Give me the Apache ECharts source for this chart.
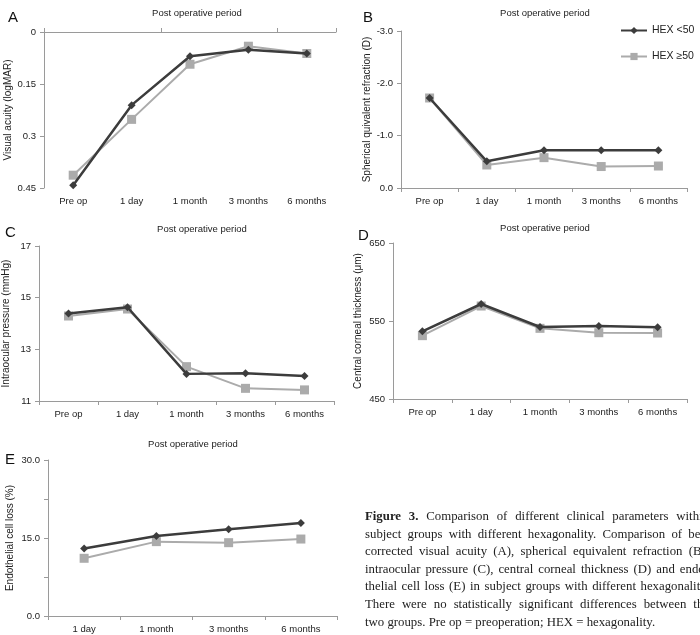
<!DOCTYPE html>
<html>
<head>
<meta charset="utf-8">
<script src="https://cdn.jsdelivr.net/npm/echarts@6/dist/echarts.min.js"></script>
<style>
  html, body { margin: 0; padding: 0; background: #fff; overflow: hidden; }
  #chart { width: 700px; height: 635px; }
  #caption {
    position: absolute; left: 365px; top: 508px; width: 344px;
    font-family: "Liberation Serif", "DejaVu Serif", serif; font-size: 12.8px;
    line-height: 17.6px; color: #222; white-space: nowrap;
  }
  #caption div { text-align: justify; text-align-last: justify; }
  #caption div.last { text-align-last: left; }
</style>
</head>
<body>
<div id="chart"></div>
<div id="caption">
  <div><b>Figure 3.</b> Comparison of different clinical parameters within</div>
  <div>subject groups with different hexagonality. Comparison of best</div>
  <div>corrected visual acuity (A), spherical equivalent refraction (B),</div>
  <div>intraocular pressure (C), central corneal thickness (D) and endo-</div>
  <div>thelial cell loss (E) in subject groups with different hexagonality.</div>
  <div>There were no statistically significant differences between the</div>
  <div class="last">two groups. Pre op = preoperation; HEX = hexagonality.</div>
</div>
<script>
// categories
var periods = ['Pre op', '1 day', '1 month', '3 months', '6 months'];
var periodsE = ['1 day', '1 month', '3 months', '6 months'];

// A - visual acuity (logMAR)
var acuityLow = [0.442, 0.211, 0.070, 0.051, 0.062];
var acuityHigh = [0.413, 0.252, 0.093, 0.041, 0.062];
// B - spherical equivalent refraction (D)
var sphereLow = [-1.72, -0.51, -0.72, -0.72, -0.72];
var sphereHigh = [-1.72, -0.44, -0.58, -0.41, -0.42];
// C - intraocular pressure (mmHg)
var iopLow = [14.39, 14.63, 12.05, 12.07, 11.97];
var iopHigh = [14.29, 14.56, 12.33, 11.49, 11.43];
// D - central corneal thickness (um)
var cctLow = [536.8, 571.8, 542.3, 543.6, 541.9];
var cctHigh = [531.2, 569.2, 540.6, 535.0, 534.6];
// E - endothelial cell loss (%)
var ecLow = [13.0, 15.4, 16.7, 17.9];
var ecHigh = [11.1, 14.3, 14.1, 14.8];

var seriesNames = ['HEX <50', 'HEX \u226550'];

var FONT = '"Liberation Sans", Arial, sans-serif';
var axisCol = '#9a9a9a';
var darkCol = '#3c3c3c';
var greyCol = '#ababab';

var chart = echarts.init(document.getElementById('chart'));

// panel boxes
var grids = [
    { left: 44, top: 32, width: 292, height: 156 },
    { left: 401, top: 31, width: 286, height: 157 },
    { left: 38, top: 246, width: 296, height: 155 },
    { left: 393, top: 243, width: 294, height: 156 },
    { left: 48, top: 460, width: 289, height: 156 }
];

function catAxis(idx, cats, opts) {
    var ax = {
        type: 'category',
        gridIndex: idx,
        data: cats,
        position: 'bottom',
        axisLine: { show: true, onZero: false, lineStyle: { color: axisCol, width: 1 } },
        axisTick: { show: true, length: 4, lineStyle: { color: axisCol } },
        axisLabel: { color: '#222', fontSize: 9.5, fontFamily: FONT, margin: 8 },
        splitLine: { show: false }
    };
    if (opts) {
        for (var k in opts) ax[k] = opts[k];
    }
    return ax;
}

function valAxis(idx, name, min, max, interval, gap, inverse, fmt) {
    return {
        type: 'value',
        gridIndex: idx,
        min: min,
        max: max,
        interval: interval,
        inverse: inverse,
        name: name,
        nameLocation: 'middle',
        nameGap: gap,
        nameTextStyle: { color: '#222', fontSize: 10, fontFamily: FONT },
        axisLine: { show: true, lineStyle: { color: axisCol, width: 1 } },
        axisTick: { show: true, length: 4, lineStyle: { color: axisCol } },
        axisLabel: { color: '#222', fontSize: 9.5, fontFamily: FONT, margin: 8, formatter: fmt },
        splitLine: { show: false }
    };
}

function pair(idx, xIdx, low, high) {
    return [
        {
            name: seriesNames[0], type: 'line', xAxisIndex: xIdx, yAxisIndex: idx,
            data: low, symbol: 'diamond', symbolSize: 8, z: 3,
            lineStyle: { color: darkCol, width: 2.5 },
            itemStyle: { color: darkCol }
        },
        {
            name: seriesNames[1], type: 'line', xAxisIndex: xIdx, yAxisIndex: idx,
            data: high, symbol: 'rect', symbolSize: 9, z: 2,
            lineStyle: { color: greyCol, width: 2 },
            itemStyle: { color: greyCol }
        }
    ];
}

var titleStyle = { color: '#222', fontSize: 9.5, fontWeight: 'normal', fontFamily: FONT };
var letterStyle = { color: '#111', fontSize: 15, fontWeight: 'normal', fontFamily: FONT };

var option = {
    animation: false,
    backgroundColor: '#fff',
    title: [
        { text: 'Post operative period', left: 192, top: 3, textAlign: 'center', textStyle: titleStyle },
        { text: 'Post operative period', left: 540, top: 3, textAlign: 'center', textStyle: titleStyle },
        { text: 'Post operative period', left: 197, top: 219, textAlign: 'center', textStyle: titleStyle },
        { text: 'Post operative period', left: 540, top: 218, textAlign: 'center', textStyle: titleStyle },
        { text: 'Post operative period', left: 188, top: 434, textAlign: 'center', textStyle: titleStyle },
        { text: 'A', left: 3, top: 5, textStyle: letterStyle },
        { text: 'B', left: 358, top: 5, textStyle: letterStyle },
        { text: 'C', left: 0, top: 220, textStyle: letterStyle },
        { text: 'D', left: 353, top: 223, textStyle: letterStyle },
        { text: 'E', left: 0, top: 447, textStyle: letterStyle }
    ],
    legend: {
        data: seriesNames,
        orient: 'vertical',
        left: 620,
        top: 25,
        padding: 0,
        itemWidth: 26,
        itemHeight: 9,
        itemGap: 15,
        textStyle: { color: '#222', fontSize: 10.5, fontFamily: FONT }
    },
    grid: grids,
    xAxis: [
        // A: labels at bottom, axis line at top (reversed value axis)
        catAxis(0, periods, { axisLine: { show: false, onZero: false }, axisTick: { show: false } }),
        catAxis(0, periods, { position: 'top', axisLabel: { show: false } }),
        catAxis(1, periods),
        catAxis(2, periods),
        catAxis(3, periods),
        catAxis(4, periodsE)
    ],
    yAxis: [
        valAxis(0, 'Visual acuity (logMAR)', 0, 0.45, 0.15, 30, true),
        valAxis(1, 'Spherical quivalent refraction (D)', -3, 0, 1, 29, true,
            function (v) { return v.toFixed(1); }),
        valAxis(2, 'Intraocular pressure (mmHg)', 11, 17, 2, 28, false),
        valAxis(3, 'Central corneal thickness (\u03bcm)', 450, 650, 100, 30, false),
        valAxis(4, 'Endothelial cell loss (%)', 0, 30, 7.5, 33, false,
            function (v) { return v % 15 === 0 ? v.toFixed(1) : ''; })
    ],
    series: [].concat(
        pair(0, 0, acuityLow, acuityHigh),
        pair(1, 2, sphereLow, sphereHigh),
        pair(2, 3, iopLow, iopHigh),
        pair(3, 4, cctLow, cctHigh),
        pair(4, 5, ecLow, ecHigh)
    )
};

chart.setOption(option);
</script>
</body>
</html>
